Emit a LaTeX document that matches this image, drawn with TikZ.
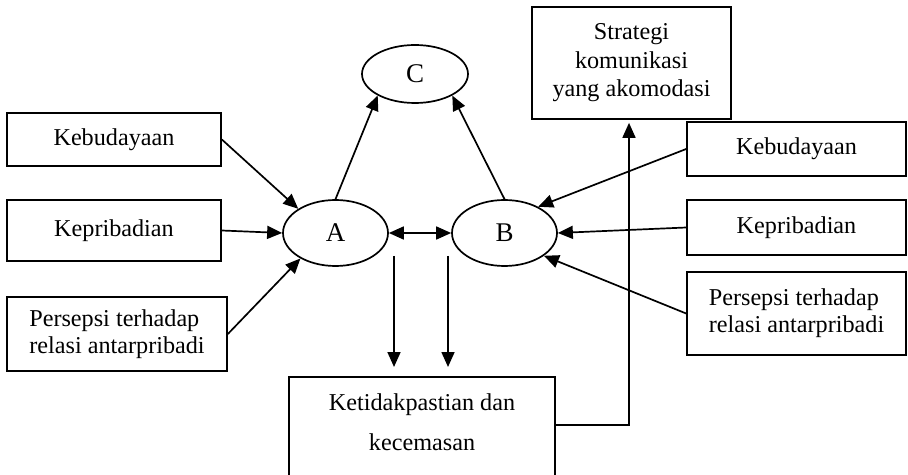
\documentclass[tikz,border=0pt]{standalone}
\usepackage{fontspec}
\setmainfont{Liberation Serif}
\usetikzlibrary{arrows.meta,shapes.geometric}
\begin{document}
\begin{tikzpicture}[x=0.5pt,y=-0.5pt,
  every node/.style={font=\fontsize{12.1pt}{13.6pt}\selectfont},
  box/.style={draw,line width=0.85pt,rectangle,inner sep=0pt,align=center},
  ell/.style={draw,line width=0.85pt,ellipse,inner sep=0pt,font=\fontsize{13.5pt}{15pt}\selectfont},
  arr/.style={line width=0.85pt,-{Triangle[length=7.5pt,width=6.5pt]}},
  darr/.style={line width=0.85pt,{Triangle[length=7.5pt,width=6.5pt]}-{Triangle[length=7.5pt,width=6.5pt]}}]
\useasboundingbox (0,0) rectangle (908,475);
\clip (0,0) rectangle (908,475);
% boxes
\node[box,minimum width=107pt,minimum height=26.5pt] (kebL) at (114,139.5) {Kebudayaan};
\node[box,minimum width=107pt,minimum height=30.5pt] (kepL) at (114,230.5) {Kepribadian};
\node[box,align=left,minimum width=110pt,minimum height=37pt] (perL) at (117,334) {Persepsi terhadap\\relasi antarpribadi};
\node[box,minimum width=99.5pt,minimum height=56pt,font=\fontsize{12.1pt}{14.2pt}\selectfont] (strat) at (631.5,63) {Strategi\\komunikasi\\yang akomodasi};
\node[box,minimum width=109.5pt,minimum height=27pt] (kebR) at (796.5,149) {Kebudayaan};
\node[box,minimum width=109.5pt,minimum height=27.5pt] (kepR) at (796.5,227.5) {Kepribadian};
\node[box,align=left,minimum width=109.5pt,minimum height=41.5pt] (perR) at (796.5,313.5) {Persepsi terhadap\\relasi antarpribadi};
\node[box,minimum width=133pt,minimum height=51pt] (ket) at (422,428) {};
\node[align=center,inner sep=0pt,font=\fontsize{12.1pt}{20pt}\selectfont] (ketT) at (422,422) {Ketidakpastian dan\\kecemasan};
% ellipses
\node[ell,minimum width=52.5pt,minimum height=33pt] (A) at (335.5,233) {A};
\node[ell,minimum width=52.5pt,minimum height=33pt] (B) at (504.5,233) {B};
\node[ell,minimum width=53pt,minimum height=29pt] (C) at (415,74) {C};
% connectors
\draw[arr] (kebL.east) -- (A.147);
\draw[arr] (kepL.east) -- (A.west);
\draw[arr] (perL.east) -- (A.216);
\draw[arr] (A.north) -- (C.210);
\draw[arr] (B.north) -- (C.330);
\draw[darr] (A.east) -- (B.west);
\draw[arr] (kebR.west) -- (B.38);
\draw[arr] (kepR.west) -- (B.east);
\draw[arr] (perR.west) -- (B.330);
\coordinate (d1) at (394,256);
\coordinate (d1e) at (394,367);
\coordinate (d2) at (448,256);
\coordinate (d2e) at (448,367);
\draw[arr] (d1) -- (d1e);
\draw[arr] (d2) -- (d2e);
\coordinate (fb) at (629,425);
\draw[arr,shorten >=1.5pt] (ket.east |- fb) -- (fb) -- (fb |- strat.south);
\end{tikzpicture}
\end{document}
